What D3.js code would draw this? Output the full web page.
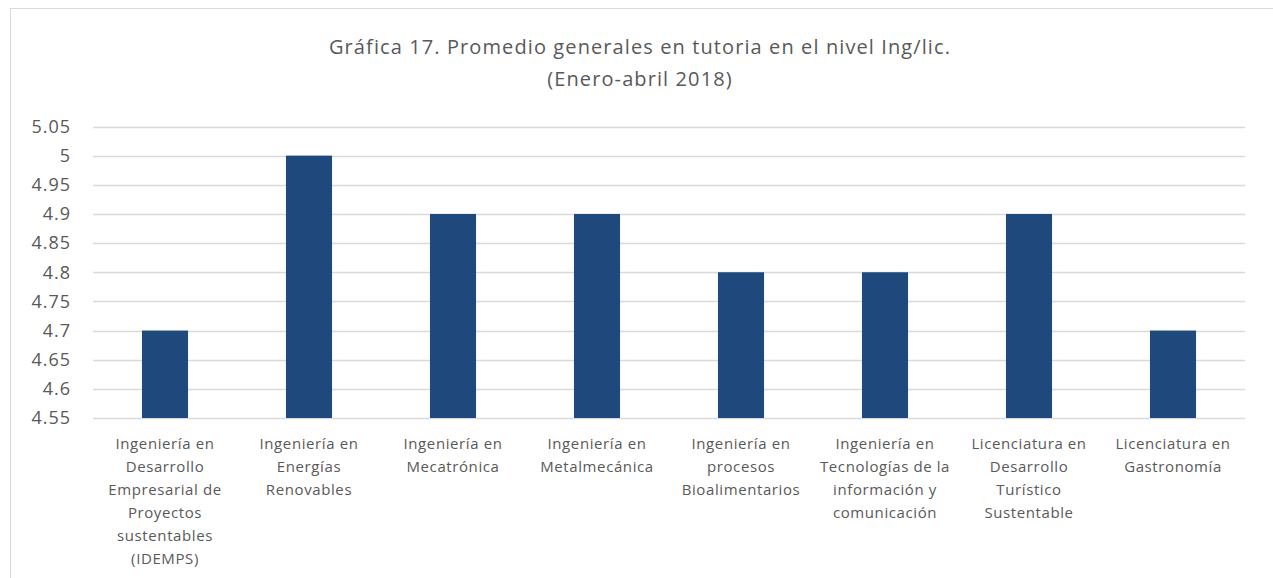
<!DOCTYPE html>
<html>
<head>
<meta charset="utf-8">
<script src="https://cdn.jsdelivr.net/npm/d3@7"></script>
<style>
  body { margin: 0; background: #fff; }
  svg { display: block; font-family: "Open Sans", sans-serif; }
</style>
</head>
<body>
<div id="chart"></div>
<script>
// data
var categories = [
  "Ingeniería en\nDesarrollo\nEmpresarial de\nProyectos\nsustentables\n(IDEMPS)",
  "Ingeniería en\nEnergías\nRenovables",
  "Ingeniería en\nMecatrónica",
  "Ingeniería en\nMetalmecánica",
  "Ingeniería en\nprocesos\nBioalimentarios",
  "Ingeniería en\nTecnologías de la\ninformación y\ncomunicación",
  "Licenciatura en\nDesarrollo\nTurístico\nSustentable",
  "Licenciatura en\nGastronomía"
];
var promedios = [4.7, 5.0, 4.9, 4.9, 4.8, 4.8, 4.9, 4.7];
var yTicks = [4.55, 4.6, 4.65, 4.7, 4.75, 4.8, 4.85, 4.9, 4.95, 5, 5.05];
var titleLines = ["Gráfica 17. Promedio generales en tutoria en el nivel Ing/lic.", "(Enero-abril 2018)"];

var width = 1273, height = 578;
var margin = {left: 93, right: 28, top: 126.5, bottom: 160};
var textColor = "#595959";

var svg = d3.select("#chart").append("svg")
  .attr("width", width)
  .attr("height", height);

// outer chart frame (bottom/right fall outside the picture)
svg.append("rect")
  .attr("x", 10.5).attr("y", 8.5)
  .attr("width", width + 20).attr("height", height + 20)
  .attr("fill", "#fff")
  .attr("stroke", "#d9d9d9");

var x = d3.scaleBand()
  .domain(d3.range(categories.length))
  .range([margin.left, width - margin.right])
  .paddingInner(0.68)
  .paddingOuter(0.34);

var y = d3.scaleLinear()
  .domain([4.55, 5.05])
  .range([height - margin.bottom, margin.top]);

// title
svg.append("text")
  .attr("x", 636).attr("y", 54)
  .attr("text-anchor", "middle")
  .attr("fill", textColor)
  .style("font-size", "20px")
  .style("letter-spacing", "1.1px")
  .selectAll("tspan")
  .data(titleLines)
  .enter().append("tspan")
  .attr("x", 640)
  .attr("dy", function(d, i) { return i === 0 ? 0 : 32; })
  .text(function(d) { return d; });

// gridlines
svg.append("g")
  .selectAll("line")
  .data(yTicks)
  .enter().append("line")
  .attr("x1", margin.left).attr("x2", width - margin.right)
  .attr("y1", function(d) { return Math.round(y(d)) + 0.5; })
  .attr("y2", function(d) { return Math.round(y(d)) + 0.5; })
  .attr("stroke", "#d9d9d9")
  .attr("stroke-width", 1.3);

// y axis labels
var yAxis = d3.axisLeft(y)
  .tickValues(yTicks)
  .tickFormat(function(d) { return String(+d.toFixed(2)); })
  .tickSize(0)
  .tickPadding(22);

var yg = svg.append("g")
  .attr("transform", "translate(" + margin.left + ",0)")
  .call(yAxis);
yg.select(".domain").remove();
yg.selectAll("text")
  .attr("fill", textColor)
  .style("font-size", "18px")
  .style("letter-spacing", "1px")
  .style("font-family", "'Open Sans', sans-serif");

// bars
svg.append("g")
  .selectAll("rect")
  .data(promedios)
  .enter().append("rect")
  .attr("x", function(d, i) { return x(i); })
  .attr("y", function(d) { return y(d); })
  .attr("width", x.bandwidth())
  .attr("height", function(d) { return y(4.55) - y(d); })
  .attr("fill", "#1f497d");

// category labels
var labels = svg.append("g")
  .selectAll("text")
  .data(categories)
  .enter().append("text")
  .attr("text-anchor", "middle")
  .attr("fill", textColor)
  .style("font-size", "15px")
  .style("letter-spacing", "0.6px")
  .attr("transform", function(d, i) {
    return "translate(" + (x(i) + x.bandwidth() / 2) + "," + (y(4.55) + 31) + ")";
  });

labels.selectAll("tspan")
  .data(function(d) { return d.split("\n"); })
  .enter().append("tspan")
  .attr("x", 0)
  .attr("dy", function(d, i) { return i === 0 ? 0 : 23; })
  .text(function(d) { return d; });
</script>
</body>
</html>
